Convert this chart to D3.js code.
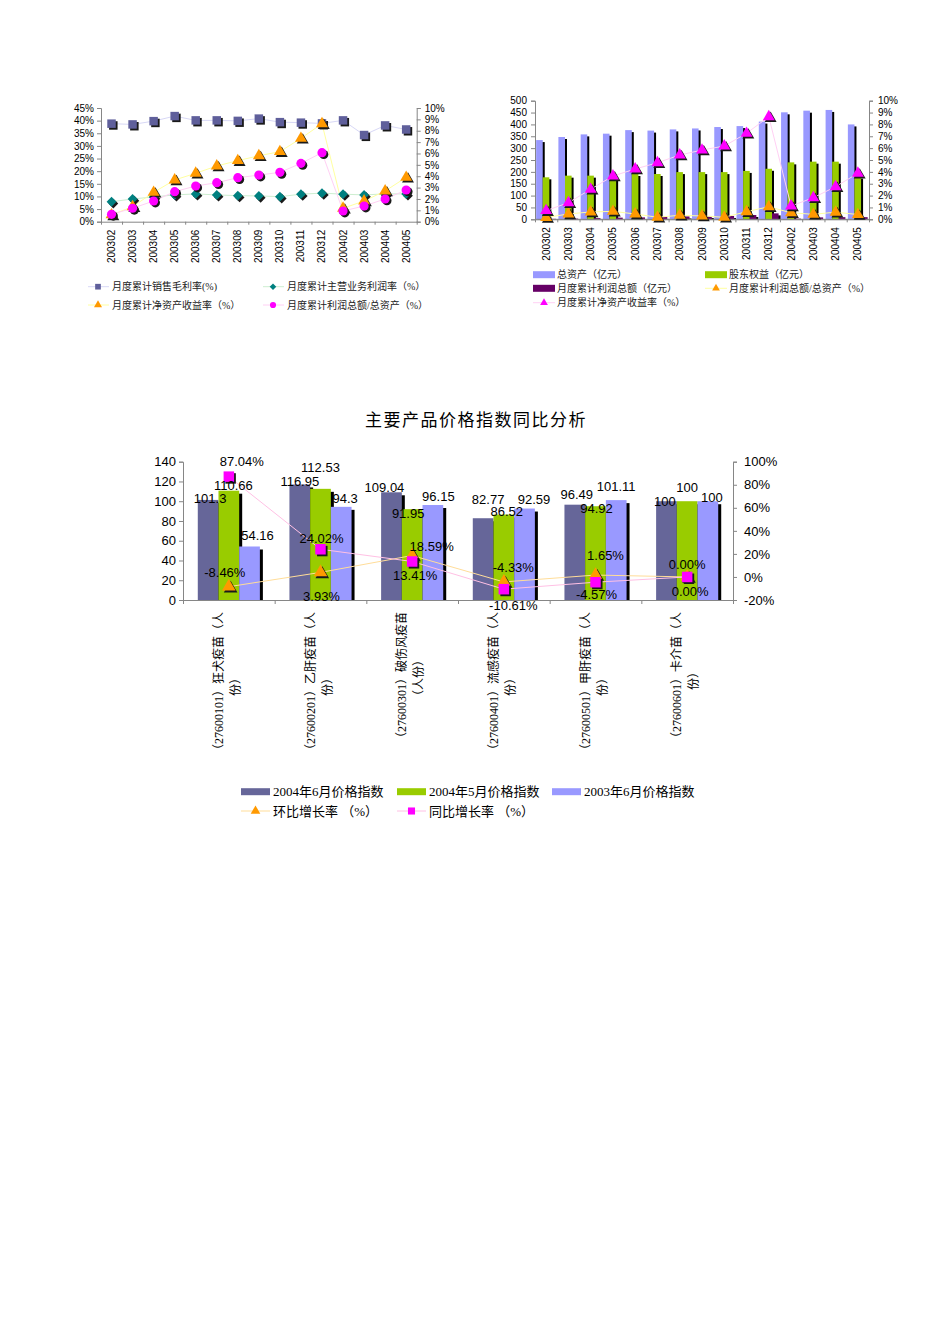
<!DOCTYPE html>
<html><head><meta charset="utf-8">
<script src="https://cdn.jsdelivr.net/npm/d3@7"></script>
<style>body{margin:0;background:#fff} svg{display:block}</style>
</head><body><svg id="c" width="950" height="1344"></svg>
<script>
// ---------------- DATA ----------------
const months = ["200302","200303","200304","200305","200306","200307","200308","200309","200310","200311","200312","200402","200403","200404","200405"];
// chart 1 (top-left)
const grossMargin   = [38.8,38.5,39.8,41.8,40.1,40.1,39.9,40.8,39.4,39.2,38.9,40.1,34.3,38.1,36.5]; // left axis %
const mainProfit    = [7.9,9.0,9.8,10.6,11.0,10.6,10.3,10.2,9.9,10.9,11.3,10.9,10.6,11.0,11.0];   // left axis %
const roe1          = [0.6,1.32,2.58,3.67,4.26,4.9,5.37,5.8,6.16,7.33,8.62,1.18,1.82,2.7,3.9];   // right axis %
const profitAsset1  = [0.65,1.18,1.82,2.64,3.14,3.43,3.87,4.1,4.34,5.13,6.07,0.94,1.38,2.0,2.79]; // right axis %
const leftTicks1  = [0,5,10,15,20,25,30,35,40,45];
const rightTicks1 = [0,1,2,3,4,5,6,7,8,9,10];
// chart 2 (top-right)
const totalAssets  = [334,347,358,361,376,374,379,383,389,393,412,451,458,461,400];
const equity       = [177,184,184,178,191,191,199,199,199,204,213,240,243,243,180];
const monthProfit  = [2,3,5,7,8,10,12,14,14,18,25,3,8,9,9];
const profitAsset2 = [0.15,0.45,0.62,0.67,0.45,0.17,0.34,0.28,0.17,0.64,1.06,0.55,0.42,0.6,0.4];
const roe2         = [0.73,1.4,2.53,3.65,4.24,4.77,5.42,5.84,6.18,7.25,8.65,1.12,1.82,2.75,3.88];
const leftTicks2  = [0,50,100,150,200,250,300,350,400,450,500];
const rightTicks2 = [0,1,2,3,4,5,6,7,8,9,10];
// chart 3 (bottom)
const products = [
  ["（27600101）狂犬疫苗（人","份）"],
  ["（27600201）乙肝疫苗（人","份）"],
  ["（27600301）破伤风疫苗","（人份）"],
  ["（27600401）流感疫苗（人","份）"],
  ["（27600501）甲肝疫苗（人","份）"],
  ["（27600601）卡介苗（人","份）"]
];
const idxJun04 = [101.3,116.95,109.04,82.77,96.49,100];
const idxMay04 = [110.66,112.53,91.95,86.52,94.92,100];
const idxJun03 = [54.16,94.3,96.15,92.59,101.11,100];
const ringGrowth = [-8.46,3.93,18.59,-4.33,1.65,0.00];
const yoyGrowth  = [87.04,24.02,13.41,-10.61,-4.57,0.00];
const leftTicks3  = [0,20,40,60,80,100,120,140];
const rightTicks3 = [-20,0,20,40,60,80,100];
const seriesNames3 = ["2004年6月价格指数","2004年5月价格指数","2003年6月价格指数"];

// label nudges (layout only, relative to scaled anchor)
const nudgeJun04 = [[2,-1],[0,-3],[-7,-5],[5,-19],[2,-10],[-1.5,0]];
const nudgeMay04 = [[4.6,-5],[0,-21],[-4,4],[3,-3],[1,2],[0,-13.5]];
const nudgeJun03 = [[8,-11],[4,-8.5],[5.5,-9],[9.5,-9.5],[0,-14],[4,-3.5]];
const nudgeRing  = [[-4,-14],[1,24],[19.5,-9],[9.5,-14.5],[10,-20],[0,-12.5]];
const nudgeYoy   = [[13,-15],[1,-11],[3,14],[9.5,16],[1,12],[3,15]];

// ---------------- HELPERS ----------------
const svg = d3.select("#c");
const NUM = "'Liberation Sans', Arial, sans-serif";
const CJK = "'Liberation Serif','Noto Sans CJK SC',serif";
const AX = "#868686";

function marker(g, type, x, y, size, color, shadow=true) {
  const sym = {square:d3.symbolSquare, diamond:d3.symbolSquare, triangle:d3.symbolTriangle, circle:d3.symbolCircle}[type];
  const p = d3.symbol().type(sym).size(size)();
  const rot = type === "diamond" ? " rotate(45)" : "";
  if (shadow) g.append("path").attr("d", p).attr("transform", `translate(${x+1.8},${y+1.8})${rot}`).attr("fill", "#1a1a1a");
  g.append("path").attr("d", p).attr("transform", `translate(${x},${y})${rot}`).attr("fill", color);
}

function styleAxis(sel, fs) {
  sel.select(".domain").attr("stroke", AX);
  sel.selectAll(".tick line").attr("stroke", AX);
  sel.selectAll(".tick text").attr("font-family", NUM).attr("font-size", fs).attr("fill", "#000");
}

// ---------------- CHART 1 ----------------
(function(){
  const g = svg.append("g");
  const x0 = 101, x1 = 416.7, yb = 221.7, yt = 108;
  const n = months.length;
  const xb = d3.scaleLinear().domain([0, n]).range([x0, x1]);
  const xc = i => xb(i + 0.5);
  const yL = d3.scaleLinear().domain([0,45]).range([yb, yt]);
  const yR = d3.scaleLinear().domain([0,10]).range([yb, yt]);

  g.append("g").attr("transform", `translate(${x0},0)`)
    .call(d3.axisLeft(yL).tickValues(leftTicks1).tickFormat(d => d + "%").tickSize(4).tickPadding(3))
    .call(s => styleAxis(s, 10));
  g.append("g").attr("transform", `translate(${x1},0)`)
    .call(d3.axisRight(yR).tickValues(rightTicks1).tickFormat(d => d + "%").tickSize(4).tickPadding(4))
    .call(s => styleAxis(s, 10));
  g.append("g").attr("transform", `translate(0,${yb})`)
    .call(d3.axisBottom(xb).tickValues(d3.range(n+1)).tickFormat("").tickSize(3).tickSizeOuter(0))
    .call(s => styleAxis(s, 10));
  months.forEach((m, i) => {
    g.append("text").attr("transform", `translate(${xc(i)+3.5},${yb+8}) rotate(-90)`)
      .attr("text-anchor", "end").attr("font-family", NUM).attr("font-size", 10).text(m);
  });

  const series = [
    {d: grossMargin, y: yL, type: "square", size: 72, color: "#5f5f9b", line: "#d8d8f6"},
    {d: mainProfit, y: yL, type: "diamond", size: 48, color: "#008080", line: "#cdeed0"},
    {d: roe1, y: yR, type: "triangle", size: 62, color: "#ff9900", line: "#ffffa0"},
    {d: profitAsset1, y: yR, type: "circle", size: 66, color: "#ff00ff", line: "#ffd0f4"}
  ];
  series.forEach(s => {
    g.append("path").datum(s.d).attr("fill", "none").attr("stroke", s.line).attr("stroke-width", 1)
      .attr("d", d3.line().x((d, i) => xc(i)).y(d => s.y(d)));
  });
  series.forEach(s => s.d.forEach((v, i) => marker(g, s.type, xc(i), s.y(v), s.size, s.color)));

  // legend
  const leg = [
    {t: "月度累计销售毛利率(%)", x: 88, y: 286.7, s: series[0]},
    {t: "月度累计主营业务利润率（%）", x: 263, y: 286.7, s: series[1]},
    {t: "月度累计净资产收益率（%）", x: 88, y: 305, s: series[2]},
    {t: "月度累计利润总额/总资产（%）", x: 263, y: 305, s: series[3]}
  ];
  leg.forEach(l => {
    g.append("line").attr("x1", l.x).attr("x2", l.x + 21).attr("y1", l.y).attr("y2", l.y).attr("stroke", l.s.line);
    marker(g, l.s.type, l.x + 10, l.y, l.s.size * 0.45, l.s.color, false);
    g.append("text").attr("x", l.x + 24).attr("y", l.y).attr("dominant-baseline", "central")
      .attr("font-family", CJK).attr("font-size", 10).attr("fill", "#222").text(l.t);
  });
})();

// ---------------- CHART 2 ----------------
(function(){
  const g = svg.append("g");
  const x0 = 535, x1 = 869, yb = 219.3, yt = 100.7;
  const n = months.length;
  const xb = d3.scaleLinear().domain([0, n]).range([x0, x1]);
  const xc = i => xb(i + 0.5);
  const yL = d3.scaleLinear().domain([0,500]).range([yb, yt]);
  const yR = d3.scaleLinear().domain([0,10]).range([yb, yt]);

  g.append("g").attr("transform", `translate(${x0},0)`)
    .call(d3.axisLeft(yL).tickValues(leftTicks2).tickSize(4).tickPadding(4))
    .call(s => styleAxis(s, 10));
  g.append("g").attr("transform", `translate(${x1},0)`)
    .call(d3.axisRight(yR).tickValues(rightTicks2).tickFormat(d => d + "%").tickSize(4).tickPadding(5))
    .call(s => styleAxis(s, 10));
  g.append("g").attr("transform", `translate(0,${yb})`)
    .call(d3.axisBottom(xb).tickValues(d3.range(n+1)).tickFormat("").tickSize(3).tickSizeOuter(0))
    .call(s => styleAxis(s, 10));
  months.forEach((m, i) => {
    g.append("text").attr("transform", `translate(${xc(i)+3.5},${yb+8}) rotate(-90)`)
      .attr("text-anchor", "end").attr("font-family", NUM).attr("font-size", 10).text(m);
  });

  const bw = 6.6;
  const bars = [
    {d: totalAssets, off: -10, color: "#9999ff"},
    {d: equity, off: -3.4, color: "#99cc00"},
    {d: monthProfit, off: 3.2, color: "#660066"}
  ];
  months.forEach((m, i) => {
    bars.forEach(b => {
      const x = xc(i) + b.off, y = yL(b.d[i]), h = yb - y;
      g.append("rect").attr("x", x + 2).attr("y", y + 2).attr("width", bw).attr("height", Math.max(0, h - 2)).attr("fill", "#000");
      g.append("rect").attr("x", x).attr("y", y).attr("width", bw).attr("height", h).attr("fill", b.color);
    });
  });
  g.append("line").attr("x1", x0).attr("x2", x1).attr("y1", yb).attr("y2", yb).attr("stroke", AX);

  const lines = [
    {d: profitAsset2, color: "#ff9900", line: "#ffffa0"},
    {d: roe2, color: "#ff00ff", line: "#ffd0f4"}
  ];
  lines.forEach(s => {
    g.append("path").datum(s.d).attr("fill", "none").attr("stroke", s.line).attr("stroke-width", 1)
      .attr("d", d3.line().x((d, i) => xc(i)).y(d => yR(d)));
  });
  lines.forEach(s => s.d.forEach((v, i) => marker(g, "triangle", xc(i), yR(v), 62, s.color)));

  // legend
  const rects = [
    {t: "总资产（亿元）", x: 533, y: 274.7, c: "#9999ff"},
    {t: "股东权益（亿元）", x: 705, y: 274.7, c: "#99cc00"},
    {t: "月度累计利润总额（亿元）", x: 533, y: 288.3, c: "#660066"}
  ];
  rects.forEach(l => {
    g.append("rect").attr("x", l.x).attr("y", l.y - 3.5).attr("width", 22).attr("height", 7).attr("fill", l.c);
    g.append("text").attr("x", l.x + 24).attr("y", l.y).attr("dominant-baseline", "central")
      .attr("font-family", CJK).attr("font-size", 10).attr("fill", "#222").text(l.t);
  });
  const lg = [
    {t: "月度累计利润总额/总资产（%）", x: 705, y: 288.3, s: lines[0]},
    {t: "月度累计净资产收益率（%）", x: 533, y: 302.7, s: lines[1]}
  ];
  lg.forEach(l => {
    g.append("line").attr("x1", l.x).attr("x2", l.x + 22).attr("y1", l.y).attr("y2", l.y).attr("stroke", l.s.line);
    marker(g, "triangle", l.x + 11, l.y, 26, l.s.color, false);
    g.append("text").attr("x", l.x + 24).attr("y", l.y).attr("dominant-baseline", "central")
      .attr("font-family", CJK).attr("font-size", 10).attr("fill", "#222").text(l.t);
  });
})();

// ---------------- CHART 3 ----------------
(function(){
  const g = svg.append("g");
  g.append("text").attr("x", 476).attr("y", 420).attr("text-anchor", "middle").attr("dominant-baseline", "central")
    .attr("font-family", CJK).attr("font-size", 17).attr("letter-spacing", 1.5).attr("fill", "#000")
    .text("主要产品价格指数同比分析");

  const x0 = 183, x1 = 733, yb = 600, yt = 461.7;
  const n = products.length;
  const xb = d3.scaleLinear().domain([0, n]).range([x0, x1]);
  const xc = i => xb(i + 0.5);
  const yL = d3.scaleLinear().domain([0,140]).range([yb, yt]);
  const yR = d3.scaleLinear().domain([-20,100]).range([yb, yt]);

  g.append("g").attr("transform", `translate(${x0},0)`)
    .call(d3.axisLeft(yL).tickValues(leftTicks3).tickSize(4).tickPadding(3))
    .call(s => styleAxis(s, 13));
  g.append("g").attr("transform", `translate(${x1},0)`)
    .call(d3.axisRight(yR).tickValues(rightTicks3).tickFormat(d => d + "%").tickSize(4).tickPadding(7))
    .call(s => styleAxis(s, 13));

  const bw = 20.7;
  const bars = [
    {d: idxJun04, off: -31.05, color: "#666699", nudge: nudgeJun04},
    {d: idxMay04, off: -10.35, color: "#99cc00", nudge: nudgeMay04},
    {d: idxJun03, off: 10.35, color: "#9999ff", nudge: nudgeJun03}
  ];
  products.forEach((p, i) => {
    bars.forEach(b => {
      const x = xc(i) + b.off, y = yL(b.d[i]), h = yb - y;
      g.append("rect").attr("x", x + 3).attr("y", y + 3).attr("width", bw).attr("height", h - 3).attr("fill", "#000");
      g.append("rect").attr("x", x).attr("y", y).attr("width", bw).attr("height", h).attr("fill", b.color);
    });
  });
  g.append("g").attr("transform", `translate(0,${yb})`)
    .call(d3.axisBottom(xb).tickValues(d3.range(n+1)).tickFormat("").tickSize(4).tickSizeOuter(0))
    .call(s => styleAxis(s, 13));

  // lines + markers
  g.append("path").datum(ringGrowth).attr("fill", "none").attr("stroke", "#ffdd99").attr("stroke-width", 1)
    .attr("d", d3.line().x((d, i) => xc(i)).y(d => yR(d)));
  g.append("path").datum(yoyGrowth).attr("fill", "none").attr("stroke", "#ffc0e4").attr("stroke-width", 1)
    .attr("d", d3.line().x((d, i) => xc(i)).y(d => yR(d)));
  ringGrowth.forEach((v, i) => marker(g, "triangle", xc(i), yR(v), 80, "#ff9900"));
  yoyGrowth.forEach((v, i) => marker(g, "square", xc(i), yR(v), 110, "#ff00ff"));

  // value labels
  const lab = (x, y, t) => g.append("text").attr("x", x).attr("y", y).attr("text-anchor", "middle")
    .attr("dominant-baseline", "central").attr("font-family", NUM).attr("font-size", 13).attr("fill", "#000").text(t);
  products.forEach((p, i) => {
    bars.forEach(b => lab(xc(i) + b.off + bw/2 + b.nudge[i][0], yL(b.d[i]) + b.nudge[i][1], String(b.d[i])));
    lab(xc(i) + nudgeRing[i][0], yR(ringGrowth[i]) + nudgeRing[i][1], ringGrowth[i].toFixed(2) + "%");
    lab(xc(i) + nudgeYoy[i][0], yR(yoyGrowth[i]) + nudgeYoy[i][1], yoyGrowth[i].toFixed(2) + "%");
  });

  // category labels (rotated, two lines)
  products.forEach((p, i) => {
    const tg = g.append("g").attr("transform", `translate(${xc(i)},612) rotate(-90)`);
    const t1 = tg.append("text").attr("x", 0).attr("y", -10).attr("text-anchor", "end").attr("dominant-baseline", "central")
      .attr("font-family", CJK).attr("font-size", 12).attr("fill", "#000").text(p[0]);
    const len = t1.node().getComputedTextLength();
    tg.append("text").attr("x", -len/2).attr("y", 7).attr("text-anchor", "middle").attr("dominant-baseline", "central")
      .attr("font-family", CJK).attr("font-size", 12).attr("fill", "#000").text(p[1]);
  });

  // legend
  const lx = [241, 397, 552];
  seriesNames3.forEach((s, k) => {
    g.append("rect").attr("x", lx[k]).attr("y", 788.2).attr("width", 29).attr("height", 7).attr("fill", bars[k].color);
    g.append("text").attr("x", lx[k] + 32).attr("y", 791.7).attr("dominant-baseline", "central")
      .attr("font-family", CJK).attr("font-size", 13).attr("fill", "#000").text(s);
  });
  g.append("line").attr("x1", 241).attr("x2", 270).attr("y1", 811).attr("y2", 811).attr("stroke", "#ffdd99");
  marker(g, "triangle", 255.5, 811, 40, "#ff9900", false);
  g.append("text").attr("x", 273).attr("y", 811).attr("dominant-baseline", "central")
    .attr("font-family", CJK).attr("font-size", 13).attr("fill", "#000").text("环比增长率 （%）");
  g.append("line").attr("x1", 397).attr("x2", 426).attr("y1", 811).attr("y2", 811).attr("stroke", "#ffc0e4");
  marker(g, "square", 411.5, 811, 50, "#ff00ff", false);
  g.append("text").attr("x", 429).attr("y", 811).attr("dominant-baseline", "central")
    .attr("font-family", CJK).attr("font-size", 13).attr("fill", "#000").text("同比增长率 （%）");
})();
</script>
</body></html>
